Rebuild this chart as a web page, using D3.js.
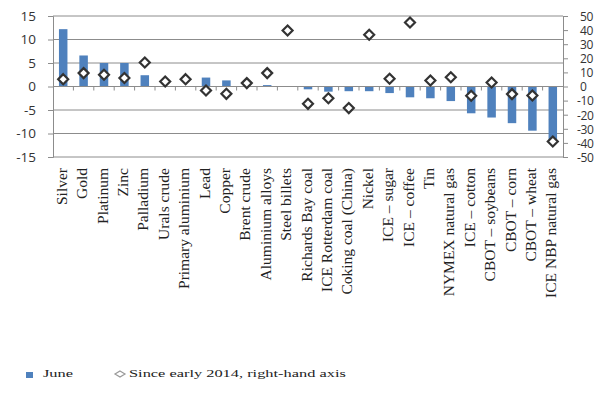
<!DOCTYPE html>
<html>
<head>
  <meta charset="utf-8">
  <style>
    body { margin: 0; background: #fff; }
    .tick text { font-family: "Open Sans", "DejaVu Sans", sans-serif; fill: #333; }
    .cat { font-family: "Liberation Serif", serif; font-size: 15.5px; fill: #222; }
    .legend text { font-family: "Liberation Serif", serif; font-size: 11px; fill: #222; }
  </style>
</head>
<body>
  <script src="https://d3js.org/d3.v7.min.js"></script>
  <script>
    var categories = ["Silver", "Gold", "Platinum", "Zinc", "Palladium", "Urals crude", "Primary aluminium",
      "Lead", "Copper", "Brent crude", "Aluminium alloys", "Steel billets", "Richards Bay coal",
      "ICE Rotterdam coal", "Coking coal (China)", "Nickel", "ICE \u2013 sugar", "ICE \u2013 coffee", "Tin",
      "NYMEX natural gas", "ICE \u2013 cotton", "CBOT \u2013 soybeans", "CBOT \u2013 corn", "CBOT \u2013 wheat",
      "ICE NBP natural gas"];
    var june = [12.2, 6.6, 5.0, 5.0, 2.4, 0.1, 0.1, 1.9, 1.3, 0.1, 0.3, 0.1, -0.6, -1.1, -1.0, -1.0, -1.4,
      -2.3, -2.5, -3.1, -5.7, -6.6, -7.8, -9.4, -12.0];
    var since2014 = [5.2, 9.5, 8.3, 6, 17, 3.5, 5.2, -2.8, -5.2, 2.4, 9.5, 39.7, -12.3, -8.3, -15.3, 36.7,
      5.5, 45.4, 4.3, 6.6, -6.6, 2.8, -5.4, -6.4, -39];
    var leftTicks = [-15, -10, -5, 0, 5, 10, 15];
    var rightTicks = [-50, -40, -30, -20, -10, 0, 10, 20, 30, 40, 50];

    var W = 614, H = 398;
    var m = {left: 53, right: 51, top: 16, bottom: 241};
    var width = W - m.left - m.right, height = H - m.top - m.bottom;

    var svg = d3.select("body").append("svg").attr("width", W).attr("height", H);
    var g = svg.append("g").attr("transform", "translate(" + m.left + "," + m.top + ")");

    var x = d3.scaleBand().domain(categories).range([0, width]);
    var y = d3.scaleLinear().domain([-15, 15]).range([height, 0]);
    var y2 = d3.scaleLinear().domain([-50, 50]).range([height, 0]);

    // gridlines
    g.selectAll(".grid").data(leftTicks.filter(function(d){ return d !== 0; }))
      .enter().append("line")
      .attr("x1", 0).attr("x2", width)
      .attr("y1", function(d){ return y(d); }).attr("y2", function(d){ return y(d); })
      .attr("stroke", "#8c8c8c").attr("stroke-width", 1);

    // left axis
    var yAxis = d3.axisLeft(y).tickValues(leftTicks).tickSize(5).tickPadding(12)
      .tickFormat(function(d){ return String(d); });
    var ga = g.append("g").call(yAxis);
    ga.select(".domain").attr("stroke", "#8c8c8c");
    ga.selectAll(".tick line").attr("stroke", "#8c8c8c");
    ga.selectAll(".tick text").style("font-size", "13.5px");

    // right axis
    var yAxis2 = d3.axisRight(y2).tickValues(rightTicks).tickSize(5).tickPadding(10)
      .tickFormat(function(d){ return String(d); });
    var gb = g.append("g").attr("transform", "translate(" + width + ",0)").call(yAxis2);
    gb.select(".domain").attr("stroke", "#8c8c8c");
    gb.selectAll(".tick line").attr("stroke", "#8c8c8c");
    gb.selectAll(".tick text").style("font-size", "12px").style("letter-spacing", "-0.4px")
      .attr("dy", "0.36em")
      .attr("x", function(d){ return d < 0 ? 14 : 17; });

    // bars
    var bw = 8.5;
    g.selectAll(".bar").data(june).enter().append("rect")
      .attr("x", function(d, i){ return x(categories[i]) + x.bandwidth() / 2 - bw / 2; })
      .attr("y", function(d){ return y(Math.max(0, d)); })
      .attr("width", bw)
      .attr("height", function(d){ return Math.abs(y(d) - y(0)); })
      .attr("fill", "#4f81bd");

    // zero axis with tick marks between categories
    g.append("line").attr("x1", 0).attr("x2", width).attr("y1", y(0)).attr("y2", y(0))
      .attr("stroke", "#8c8c8c");
    g.selectAll(".xt").data(categories.slice(1)).enter().append("line")
      .attr("x1", function(d){ return x(d); }).attr("x2", function(d){ return x(d); })
      .attr("y1", y(0)).attr("y2", y(0) + 4).attr("stroke", "#8c8c8c");

    // diamonds
    var ds = 5;
    g.selectAll(".dia").data(since2014).enter().append("path")
      .attr("d", "M0," + (-ds) + "L" + ds + ",0L0," + ds + "L" + (-ds) + ",0Z")
      .attr("transform", function(d, i){
        return "translate(" + (x(categories[i]) + x.bandwidth() / 2) + "," + y2(d) + ")";
      })
      .attr("fill", "#fff").attr("stroke", "#333").attr("stroke-width", 2.2);

    // category labels
    g.selectAll(".cat").data(categories).enter().append("text")
      .attr("class", "cat")
      .attr("transform", function(d){
        return "translate(" + (x(d) + x.bandwidth() / 2 + 3.5) + "," + (height + 11) + ") rotate(-90)";
      })
      .attr("text-anchor", "end")
      .text(function(d){ return d; });

    // legend (text in the picture is stretched sideways)
    var lg = svg.append("g").attr("class", "legend").attr("transform", "translate(0,377)");
    lg.append("rect").attr("x", 26).attr("y", -5).attr("width", 7).attr("height", 6).attr("fill", "#4f81bd");
    lg.append("text").attr("transform", "translate(43,0) scale(1.49,1)").text("June");
    lg.append("path").attr("d", "M120,-6L125,-3L120,0L115,-3Z")
      .attr("fill", "#fff").attr("stroke", "#999").attr("stroke-width", 1.2);
    lg.append("text").attr("transform", "translate(129,0) scale(1.49,1)").text("Since early 2014, right-hand axis");
  </script>
</body>
</html>
